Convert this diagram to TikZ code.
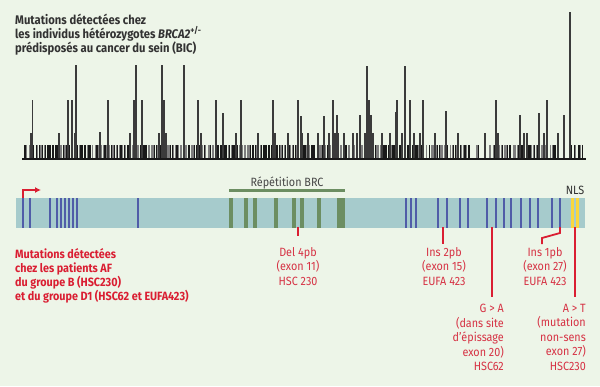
\documentclass[tikz,border=0pt]{standalone}
\usepackage{fontspec}
\setmainfont{Fira Sans}[FakeStretch=0.9]
\usetikzlibrary{arrows.meta}
\definecolor{bg}{RGB}{237,245,232}
\definecolor{barc}{RGB}{166,203,204}
\definecolor{blu}{RGB}{80,92,168}
\definecolor{grn}{RGB}{108,142,98}
\definecolor{yel}{RGB}{250,215,60}
\definecolor{rd}{RGB}{218,30,50}
\definecolor{rdt}{RGB}{214,50,68}
\definecolor{ttl}{RGB}{50,50,50}
\definecolor{hg}{RGB}{125,125,125}
\definecolor{hk}{RGB}{25,25,25}
\newcommand\hbarsrange[2]{%
  \pgfmathtruncatemacro\nb{(#2-#1)/1.6}%
  \foreach \i in {0,...,\nb}{%
    \pgfmathsetmacro\xx{#1+\i*1.6}%
    \pgfmathrandominteger\rr{0}{99}%
    \ifnum\rr<52 \draw[hbk] (\xx,159)--(\xx,145);\else\ifnum\rr<92 \draw[hgr] (\xx,159)--(\xx,145);\fi\fi
  }}
\begin{document}
\begin{tikzpicture}[x=1pt,y=-1pt,
  hbk/.style={hk,line width=1.15pt},
  hgr/.style={hg,line width=1.15pt},
  peak/.style={hk!85,line width=1.1pt},
  bluel/.style={blu,line width=2pt},
  grnl/.style={grn,line width=4pt},
  yell/.style={yel,line width=3.5pt},
  mut/.style={rd,line width=2.4pt},
  lab/.style={text=rdt,font=\fontsize{12}{14.5}\selectfont,inner sep=0pt},
  ttlf/.style={text=ttl,font=\bfseries\fontsize{12.5}{13.5}\selectfont,inner sep=0pt,align=left}]
\useasboundingbox[fill=bg] (0,0) rectangle (600,386);
% title
\node[ttlf,anchor=north west] (title) at (15,14)
  {Mutations détectées chez\\les individus hétérozygotes \textit{BRCA2}\textsuperscript{+/-}\\prédisposés au cancer du sein (BIC)};
% histogram
\pgfmathsetseed{7}
\hbarsrange{25}{471}
\hbarsrange{477}{480}
\hbarsrange{490}{558}
\hbarsrange{571}{585}
\foreach \x/\t in {31/133,32.7/100,59/133,68/100,72/100,75/133,76/65,100/132,108/100,130/133,134/100,136/65,142/100,159/133,162/65,164/100,166/133,184/65,198/100,201/133,216/100,223/113,236/133,241/100,258/133,273/100,275/133,288/133,298/100,
  301/116,302/133,308/133,318/133,324/116,329/133,333/100,335/133,337/115,338/133,344/133,353/133,357/133,360/115,365/133,367/66,369/100,371/115,373/133,382/133,390/133,396/112,397/100,402/133,405/66,410/100,414/133,420/133,423/100,435/133,446/111,458/133,485/133,496/100,498/133,520/115,524/133,527/133,539/113,544/133,547/100,558/133,564/115,570/12}
  {\draw[peak] (\x,159) -- (\x,\t);}
\coordinate (hl) at (22,159);
\coordinate (hr) at (586,159);
\draw[hk,line width=1.3pt] (hl) -- (hr);
% gene bar
\node[fill=barc,minimum width=569pt,minimum height=30pt,inner sep=0,anchor=north west] (bar) at (16,198) {};
\foreach \x in {23,30,50,57,61,65,69,73,77,138,406,411,416,438,447,460,468,487,496,504,511,521,530,538,552,560}
  {\draw[bluel] (\x,198) -- (\x,228);}
\foreach \x in {231,246,255,276,294,302,319}
  {\draw[grnl] (\x,198) -- (\x,228);}
\draw[grn,line width=8pt] (341,198) -- (341,228);
\draw[yell] (572.5,198) -- (572.5,228);
\draw[yell] (577.5,198) -- (577.5,228);
% BRC repeat
\coordinate (brcl) at (229,190.5);
\coordinate (brcr) at (345,190.5);
\draw[grn,line width=3.5pt] (brcl) -- (brcr);
\node[text=ttl!90,font=\fontsize{12}{13}\selectfont,anchor=base] (brc) at (287,186) {Répétition BRC};
\node[text=ttl,font=\fontsize{12}{13}\selectfont,anchor=base] (nls) at (575,194) {NLS};
% start arrow
\coordinate (s0) at (23,198);
\coordinate (s1) at (23,190);
\coordinate (s2) at (41,190);
\draw[rd,line width=2pt,-{Latex[length=6pt,width=6pt]}] (s0) -- (s1) -- (s2);
% left red text
\node[text=rd,font=\bfseries\fontsize{12}{14}\selectfont,inner sep=0,align=left,anchor=north west] (af) at (15,248)
  {Mutations détectées\\chez les patients AF\\du groupe B (HSC230)\\et du groupe D1 (HSC62 et EUFA423)};
% mutations
\coordinate (m1) at (298,227);\coordinate (m1e) at (298,236);
\draw[mut] (m1) -- (m1e);
\node[lab,align=center,anchor=north] (l1) at (298,247) {Del 4pb\\(exon 11)\\HSC 230};
\coordinate (m2) at (443,227);\coordinate (m2e) at (443,244);
\draw[mut] (m2) -- (m2e);
\node[lab,align=center,anchor=north] (l2) at (444,247) {Ins 2pb\\(exon 15)\\EUFA 423};
\coordinate (m3) at (492,227);\coordinate (m3e) at (492,297);
\draw[mut] (m3) -- (m3e);
\node[lab,align=right,anchor=north east] (l3) at (504,304) {G > A\\(dans site\\d’épissage\\exon 20)\\HSC62};
\coordinate (m4) at (560,227);\coordinate (m4a) at (560,233);\coordinate (m4b) at (542,238);\coordinate (m4e) at (542,244);
\draw[rd,line width=1.8pt] (m4) -- (m4a) -- (m4b) -- (m4e);
\node[lab,align=center,anchor=north] (l4) at (545,247) {Ins 1pb\\(exon 27)\\EUFA 423};
\coordinate (m5) at (575,227);\coordinate (m5e) at (575,297);
\draw[mut] (m5) -- (m5e);
\node[lab,align=right,anchor=north east] (l5) at (586,304) {A > T\\(mutation\\non-sens\\exon 27)\\HSC230};
\end{tikzpicture}
\end{document}
